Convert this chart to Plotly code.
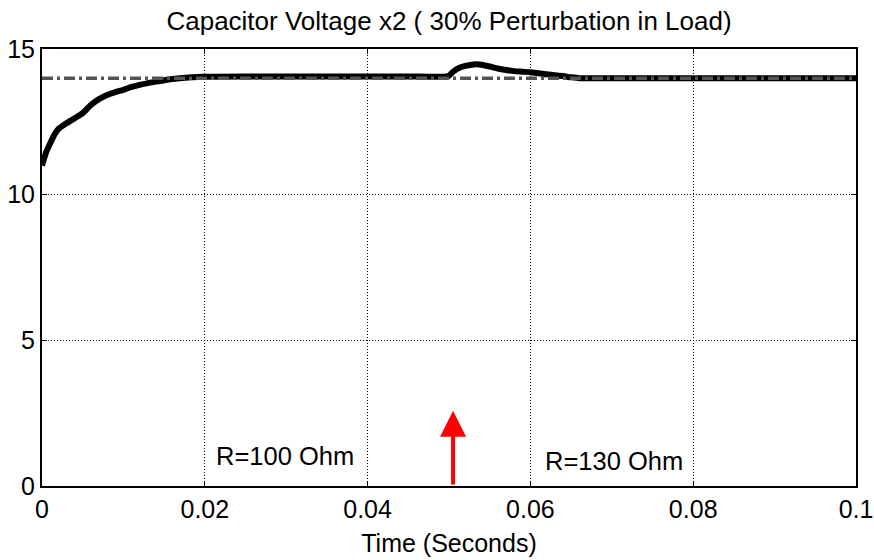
import plotly.graph_objects as go

# Capacitor voltage response (time in seconds, volts)
time_s = [0.0, 0.0005, 0.001, 0.0015, 0.002, 0.003, 0.004, 0.005, 0.006, 0.007,
          0.008, 0.009, 0.010, 0.011, 0.012, 0.013, 0.014, 0.015, 0.016, 0.018,
          0.020, 0.025, 0.030, 0.035, 0.040, 0.045, 0.0499, 0.0505, 0.051, 0.052,
          0.053, 0.0535, 0.054, 0.055, 0.056, 0.057, 0.058, 0.059, 0.060, 0.061,
          0.062, 0.063, 0.064, 0.065, 0.066, 0.070, 0.075, 0.080, 0.085, 0.090,
          0.095, 0.100]
voltage = [11.0, 11.45, 11.76, 12.05, 12.25, 12.45, 12.62, 12.8, 13.08, 13.28,
           13.42, 13.52, 13.6, 13.7, 13.77, 13.83, 13.88, 13.93, 13.97, 14.02,
           14.05, 14.06, 14.06, 14.06, 14.06, 14.06, 14.07, 14.22, 14.32, 14.42,
           14.47, 14.48, 14.46, 14.4, 14.33, 14.28, 14.24, 14.22, 14.2, 14.17,
           14.13, 14.1, 14.07, 14.03, 14.0, 14.0, 14.0, 14.0, 14.0, 14.0,
           14.0, 14.0]

# Reference (set-point) voltage
ref_time = [0.0, 0.1]
ref_voltage = [14.0, 14.0]

x_ticks = [0, 0.02, 0.04, 0.06, 0.08, 0.1]
x_tick_text = ["0", "0.02", "0.04", "0.06", "0.08", "0.1"]
y_ticks = [0, 5, 10, 15]
y_tick_text = ["0", "5", "10", "15"]

# Load step: time of change and arrow height
step_time = 0.0505
arrow_top = 2.58

label_before = "R=100 Ohm"
label_after = "R=130 Ohm"

FONT = "Liberation Sans, Arial, sans-serif"

fig = go.Figure()

fig.add_trace(go.Scatter(
    x=time_s, y=voltage, mode="lines",
    line=dict(color="black", width=6, shape="spline", smoothing=0.6),
    hoverinfo="skip", showlegend=False,
))
fig.add_trace(go.Scatter(
    x=ref_time, y=ref_voltage, mode="lines",
    line=dict(color="#555555", width=3.5, dash="11px,4px,3px,4px"),
    hoverinfo="skip", showlegend=False,
))

fig.add_annotation(
    x=step_time, y=arrow_top, ax=step_time, ay=0,
    xref="x", yref="y", axref="x", ayref="y",
    showarrow=True, arrowhead=2, arrowsize=1.3, arrowwidth=4,
    arrowcolor="red", text="",
)
fig.add_annotation(x=0.0299, y=1.03, xref="x", yref="y", text=label_before,
                   showarrow=False, font=dict(family=FONT, size=25.5, color="black"))
fig.add_annotation(x=0.0703, y=0.86, xref="x", yref="y", text=label_after,
                   showarrow=False, font=dict(family=FONT, size=25.5, color="black"))

axis_common = dict(
    showline=True, linecolor="black", linewidth=2, mirror="ticks",
    ticks="inside", ticklen=5, tickwidth=1, tickcolor="black",
    showgrid=True, gridcolor="black", gridwidth=1, griddash="1px,2px",
    zeroline=False, automargin=False,
    tickfont=dict(family=FONT, size=25, color="black"),
)

fig.update_xaxes(
    range=[0, 0.1], tickvals=x_ticks, ticktext=x_tick_text,
    title=dict(text="Time (Seconds)", font=dict(family=FONT, size=25, color="black"),
               standoff=12),
    **axis_common,
)
fig.update_yaxes(
    range=[0, 15], tickvals=y_ticks, ticktext=y_tick_text,
    **axis_common,
)

fig.update_layout(
    width=874, height=560,
    margin=dict(l=42, r=18, t=49, b=74),
    paper_bgcolor="white", plot_bgcolor="white",
    title=dict(text="Capacitor Voltage x2 ( 30% Perturbation in Load)",
               x=0.5, xref="paper", y=0.963, yanchor="middle",
               font=dict(family=FONT, size=26, color="black")),
)

fig.write_html("out.html")
